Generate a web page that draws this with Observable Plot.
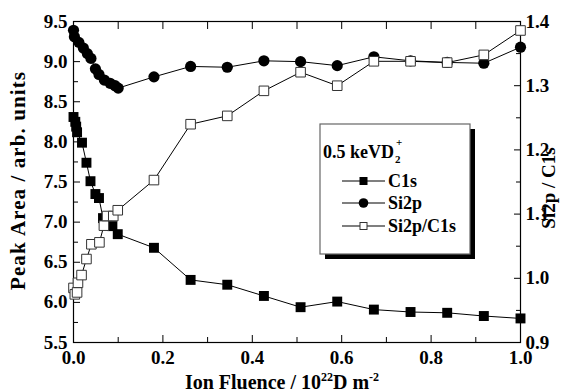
<!DOCTYPE html>
<html><head><meta charset="utf-8">
<script src="https://cdn.jsdelivr.net/npm/d3@7"></script>
<script src="https://cdn.jsdelivr.net/npm/@observablehq/plot@0.6"></script>
<style>
body{margin:0;background:#fff}
#chart svg, #chart svg text{font-family:"Liberation Serif","Times New Roman",serif !important;font-weight:bold}
</style>
</head><body><div id="chart"></div>
<script>
// ---- data ----
const fluenceC1s = [0, 0.004, 0.006, 0.008, 0.019, 0.029, 0.038, 0.049, 0.057, 0.066, 0.087, 0.099, 0.18, 0.262, 0.344, 0.426, 0.508, 0.59, 0.672, 0.754, 0.836, 0.918, 1.0];
const c1s        = [8.31, 8.25, 8.19, 8.12, 7.99, 7.74, 7.51, 7.35, 7.30, 7.05, 6.95, 6.85, 6.68, 6.28, 6.22, 6.08, 5.94, 6.01, 5.91, 5.88, 5.87, 5.83, 5.80];

const fluenceSi2p = [0, 0.002, 0.012, 0.022, 0.031, 0.039, 0.049, 0.057, 0.069, 0.082, 0.093, 0.1, 0.18, 0.262, 0.344, 0.426, 0.508, 0.59, 0.672, 0.754, 0.836, 0.918, 1.0];
const si2p        = [9.39, 9.31, 9.24, 9.17, 9.10, 9.04, 8.91, 8.84, 8.77, 8.73, 8.70, 8.67, 8.81, 8.94, 8.93, 9.01, 9.00, 8.95, 9.06, 9.01, 8.99, 8.98, 9.18];

const fluenceRatio = [0, 0.003, 0.008, 0.01, 0.018, 0.029, 0.04, 0.058, 0.068, 0.075, 0.089, 0.099, 0.18, 0.262, 0.344, 0.426, 0.508, 0.59, 0.672, 0.754, 0.836, 0.918, 1.0];
const ratio        = [0.985, 0.975, 0.978, 0.993, 1.005, 1.030, 1.053, 1.056, 1.082, 1.097, 1.097, 1.106, 1.153, 1.240, 1.253, 1.292, 1.321, 1.300, 1.338, 1.338, 1.336, 1.348, 1.386];

const xTickLabels = [0, 0.2, 0.4, 0.6, 0.8, 1.0];
const xMinorTicks = [0.1, 0.3, 0.5, 0.7, 0.9];
const xAllTicks   = [0, 0.1, 0.2, 0.3, 0.4, 0.5, 0.6, 0.7, 0.8, 0.9, 1.0];
const yLeftTicks  = [5.5, 6.0, 6.5, 7.0, 7.5, 8.0, 8.5, 9.0, 9.5];
const yLeftMinor  = [5.75, 6.25, 6.75, 7.25, 7.75, 8.25, 8.75, 9.25];
const yRightTicks = [0.9, 1.0, 1.1, 1.2, 1.3, 1.4];
const yRightMinor = [0.95, 1.05, 1.15, 1.25, 1.35];

const seriesNames = ["C1s", "Si2p", "Si2p/C1s"];
const legendTitle = "0.5 keVD";

// ---- build ----
const leftDomain = [5.5, 9.5], rightDomain = [0.9, 1.4];
const k = (leftDomain[1] - leftDomain[0]) / (rightDomain[1] - rightDomain[0]);
const toLeft = r => leftDomain[0] + (r - rightDomain[0]) * k;
const fromLeft = v => rightDomain[0] + (v - leftDomain[0]) / k;

const c1sData = fluenceC1s.map((x, i) => ({x, y: c1s[i]}));
const siData = fluenceSi2p.map((x, i) => ({x, y: si2p[i]}));
const ratioData = fluenceRatio.map((x, i) => ({x, y: toLeft(ratio[i])}));

const W = 570, H = 392;
const FS = 19;
const blank = () => "";

const plot = Plot.plot({
  width: W, height: H,
  marginLeft: 73, marginRight: 50, marginTop: 21, marginBottom: 50,
  x: {domain: [0, 1]},
  y: {domain: leftDomain},
  style: {fontFamily: "'Liberation Serif', serif", fontWeight: "bold", color: "black", background: "white", overflow: "visible"},
  marks: [
    Plot.axisX({anchor: "bottom", ticks: xTickLabels, tickSize: 0, tickPadding: 8, tickFormat: d => d.toFixed(1), fontSize: FS, label: null}),
    Plot.axisX({anchor: "bottom", ticks: xTickLabels, tickSize: -7, tickFormat: blank, label: null}),
    Plot.axisX({anchor: "bottom", ticks: xMinorTicks, tickSize: -5, tickFormat: blank, label: null}),
    Plot.axisX({anchor: "top", ticks: xAllTicks, tickSize: -7, tickFormat: blank, label: null}),
    Plot.axisY({anchor: "left", ticks: yLeftTicks, tickSize: 0, tickPadding: 6, tickFormat: d => d.toFixed(1), fontSize: FS, label: null}),
    Plot.axisY({anchor: "left", ticks: yLeftTicks, tickSize: -7, tickFormat: blank, label: null}),
    Plot.axisY({anchor: "left", ticks: yLeftMinor, tickSize: -5, tickFormat: blank, label: null}),
    Plot.axisY({anchor: "right", ticks: yRightTicks.map(toLeft), tickSize: 0, tickPadding: 5, tickFormat: d => fromLeft(d).toFixed(1), fontSize: FS, label: null}),
    Plot.axisY({anchor: "right", ticks: yRightTicks.map(toLeft), tickSize: -7, tickFormat: blank, label: null}),
    Plot.axisY({anchor: "right", ticks: yRightMinor.map(toLeft), tickSize: -5, tickFormat: blank, label: null}),
    Plot.frame({stroke: "black", strokeWidth: 1.2}),
    Plot.line(c1sData, {x: "x", y: "y", stroke: "black", strokeWidth: 1}),
    Plot.dot(c1sData, {x: "x", y: "y", symbol: "square", r: 5.6, fill: "black", stroke: "none"}),
    Plot.line(siData, {x: "x", y: "y", stroke: "black", strokeWidth: 1}),
    Plot.dot(siData, {x: "x", y: "y", symbol: "circle", r: 5.6, fill: "black", stroke: "none"}),
    Plot.line(ratioData, {x: "x", y: "y", stroke: "black", strokeWidth: 1}),
    Plot.dot(ratioData, {x: "x", y: "y", symbol: "square", r: 5.4, fill: "white", stroke: "#333", strokeWidth: 1})
  ]
});
document.getElementById("chart").appendChild(plot);

// ---- titles and legend ----
const svg = d3.select(plot);
const font = "'Liberation Serif', serif";
const txt = (parent) => parent.append("text").attr("font-family", font).attr("font-weight", "bold").attr("fill", "black").attr("text-anchor", "start");

// left title
txt(svg).attr("transform", "translate(25,181) rotate(-90)")
  .attr("text-anchor", "middle").attr("font-size", 21)
  .attr("textLength", 218).attr("lengthAdjust", "spacing")
  .text("Peak Area / arb. units");

// right title
txt(svg).attr("transform", "translate(555,188) rotate(-90)")
  .attr("text-anchor", "middle").attr("font-size", 19)
  .text("Si2p / C1s");

// bottom title
const xt = txt(svg).attr("x", 282).attr("y", 389).attr("text-anchor", "middle").attr("font-size", 20);
xt.append("tspan").text("Ion Fluence / 10");
xt.append("tspan").attr("font-size", 12).attr("dy", -8).text("22");
xt.append("tspan").attr("dy", 8).text("D m");
xt.append("tspan").attr("font-size", 12).attr("dy", -8).text("-2");

// legend
const lg = svg.append("g");
const bx = 320, by = 124, bw = 150, bh = 130;
lg.append("rect").attr("x", bx + 5).attr("y", by + 5).attr("width", bw).attr("height", bh).attr("fill", "black");
lg.append("rect").attr("x", bx).attr("y", by).attr("width", bw).attr("height", bh).attr("fill", "white").attr("stroke", "#666").attr("stroke-width", 1.2);

const lt = txt(lg).attr("x", bx + 3).attr("y", by + 34).attr("font-size", 18).text(legendTitle);
const ltLen = lt.node().getComputedTextLength();
txt(lg).attr("x", bx + 4 + ltLen).attr("y", by + 39).attr("font-size", 11).text("2");
txt(lg).attr("x", bx + 5 + ltLen).attr("y", by + 22).attr("font-size", 11).text("+");

const rows = [
  {name: seriesNames[0], y: by + 57, sym: "sqFill"},
  {name: seriesNames[1], y: by + 79, sym: "circle"},
  {name: seriesNames[2], y: by + 102, sym: "sqOpen"}
];
rows.forEach(r => {
  lg.append("line").attr("x1", bx + 22).attr("x2", bx + 65).attr("y1", r.y).attr("y2", r.y).attr("stroke", "black").attr("stroke-width", 1.2);
  const cx = bx + 43.5;
  if (r.sym === "sqFill") lg.append("rect").attr("x", cx - 4).attr("y", r.y - 4).attr("width", 8).attr("height", 8).attr("fill", "black");
  if (r.sym === "circle") lg.append("circle").attr("cx", cx).attr("cy", r.y).attr("r", 4.8).attr("fill", "black");
  if (r.sym === "sqOpen") lg.append("rect").attr("x", cx - 3.5).attr("y", r.y - 3.5).attr("width", 7).attr("height", 7).attr("fill", "white").attr("stroke", "#333").attr("stroke-width", 1);
  txt(lg).attr("x", bx + 68).attr("y", r.y + 6).attr("font-size", 18).text(r.name);
});
</script>
</body></html>
